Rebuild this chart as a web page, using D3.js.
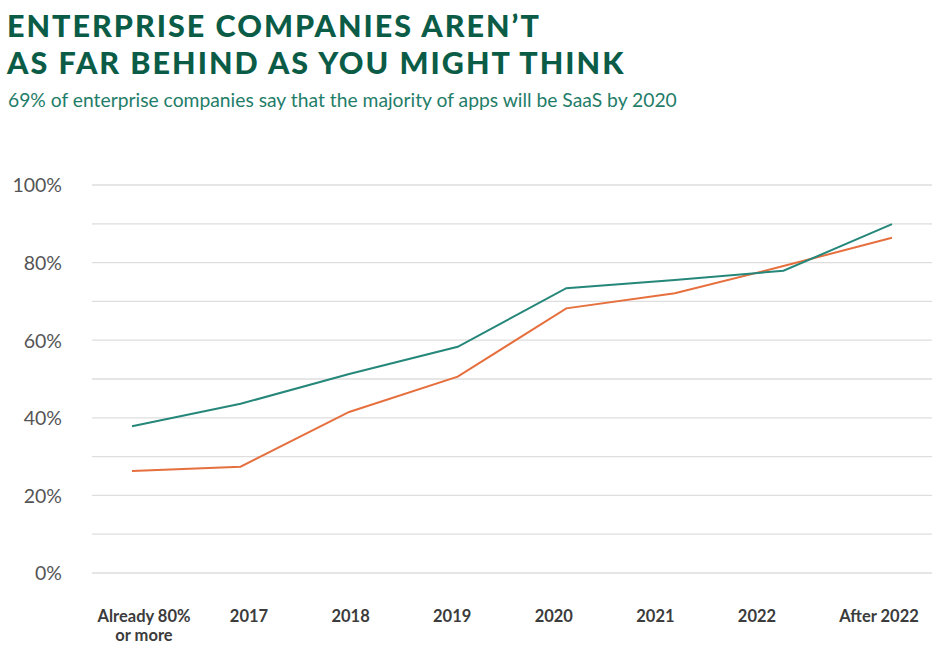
<!DOCTYPE html>
<html><head><meta charset="utf-8">
<script src="https://cdn.jsdelivr.net/npm/d3@7"></script>
<style>body{margin:0;background:#fff}svg{display:block}</style>
</head><body><svg id="c" width="949" height="647"></svg>
<script>
const categories = ["Already 80% or more","2017","2018","2019","2020","2021","2022","After 2022"];
const seriesGreen = [37.8,43.6,51.3,58.3,73.4,75.5,77.9,89.9];
const seriesOrange = [26.3,27.4,41.5,50.6,68.2,72.1,79.1,86.4];
const yTicks = [0,20,40,60,80,100];
const gridTicks = [0,10,20,30,40,50,60,70,80,90,100];
const titleLines = ["ENTERPRISE COMPANIES AREN\u2019T","AS FAR BEHIND AS YOU MIGHT THINK"];
const subtitle = "69% of enterprise companies say that the majority of apps will be SaaS by 2020";

const svg = d3.select("#c");
const x = d3.scalePoint().domain(categories).range([132,892]);
const xl = d3.scaleLinear().domain([0,1,6,7]).range([144,249,757,879]);
const y = d3.scaleLinear().domain([0,100]).range([573,185]);

svg.append("g").selectAll("text").data(titleLines).join("text")
  .attr("x",7).attr("y",(d,i)=>37+i*37)
  .attr("font-family","Lato").attr("font-weight",900).attr("font-size",30.5)
  .attr("letter-spacing",2.0).attr("fill","#0b5c47").text(d=>d);
svg.append("text").attr("x",8).attr("y",107).attr("font-family","Lato")
  .attr("font-size",19.3).attr("fill","#1f7d69").text(subtitle);

svg.append("g").selectAll("line").data(gridTicks).join("line")
  .attr("x1",92).attr("x2",932).attr("y1",d=>y(d)).attr("y2",d=>y(d))
  .attr("stroke","#dedede").attr("stroke-width",1.3);

const yAxis = svg.append("g").attr("transform","translate(62,0)")
  .call(d3.axisLeft(y).tickValues(yTicks).tickSize(0).tickPadding(0).tickFormat(d=>d+"%"));
yAxis.select(".domain").remove();
yAxis.selectAll("text").attr("font-family","Lato").attr("font-size",19.5).attr("fill","#555").attr("dy","0.35em");

const xg = svg.append("g").selectAll("text").data(categories).join("text")
  .attr("x",(d,i)=>xl(i)).attr("y",621.5).attr("text-anchor","middle")
  .attr("font-family","Lato").attr("font-weight",700).attr("font-size",16.5).attr("fill","#3c3c3c");
xg.each(function(d){
  const t=d3.select(this);
  if(d==="Already 80% or more"){
    t.append("tspan").attr("x",t.attr("x")).text("Already 80%");
    t.append("tspan").attr("x",t.attr("x")).attr("dy",19).text("or more");
  } else t.text(d);
});

const line = d3.line().x((d,i)=>x(categories[i])).y(d=>y(d));
svg.append("path").datum(seriesOrange).attr("d",line).attr("fill","none").attr("stroke","#e66f3e").attr("stroke-width",2);
svg.append("path").datum(seriesGreen).attr("d",line).attr("fill","none").attr("stroke","#25877a").attr("stroke-width",2);
</script></body></html>
